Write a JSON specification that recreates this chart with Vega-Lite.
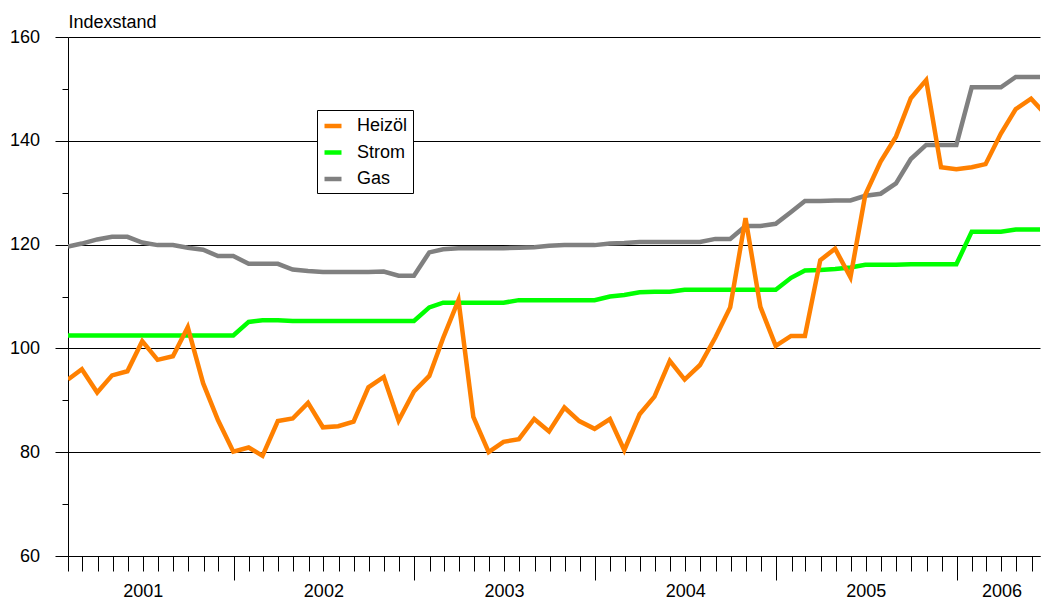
{
  "$schema": "https://vega.github.io/schema/vega-lite/v6.json",
  "width": 972,
  "height": 519,
  "autosize": {"type": "none"},
  "padding": {"left": 68, "top": 37, "right": 1, "bottom": 45},
  "background": "white",
  "config": {"view": {"stroke": null}, "font": "Liberation Sans"},
  "data": {
    "values": [
      {"d": "2001/01/31", "Heizöl": 94.0, "Strom": 102.5, "Gas": 119.6},
      {"d": "2001/02/28", "Heizöl": 96.0, "Strom": 102.5, "Gas": 120.2},
      {"d": "2001/03/31", "Heizöl": 91.5, "Strom": 102.5, "Gas": 121.0},
      {"d": "2001/04/30", "Heizöl": 94.8, "Strom": 102.5, "Gas": 121.5},
      {"d": "2001/05/31", "Heizöl": 95.6, "Strom": 102.5, "Gas": 121.5},
      {"d": "2001/06/30", "Heizöl": 101.4, "Strom": 102.5, "Gas": 120.4},
      {"d": "2001/07/31", "Heizöl": 97.8, "Strom": 102.5, "Gas": 119.9},
      {"d": "2001/08/31", "Heizöl": 98.5, "Strom": 102.5, "Gas": 119.9},
      {"d": "2001/09/30", "Heizöl": 104.1, "Strom": 102.5, "Gas": 119.4},
      {"d": "2001/10/31", "Heizöl": 93.3, "Strom": 102.5, "Gas": 119.0},
      {"d": "2001/11/30", "Heizöl": 86.2, "Strom": 102.5, "Gas": 117.8},
      {"d": "2001/12/31", "Heizöl": 80.1, "Strom": 102.5, "Gas": 117.8},
      {"d": "2002/01/31", "Heizöl": 80.9, "Strom": 105.1, "Gas": 116.3},
      {"d": "2002/02/28", "Heizöl": 79.3, "Strom": 105.4, "Gas": 116.3},
      {"d": "2002/03/31", "Heizöl": 86.0, "Strom": 105.4, "Gas": 116.3},
      {"d": "2002/04/30", "Heizöl": 86.5, "Strom": 105.3, "Gas": 115.2},
      {"d": "2002/05/31", "Heizöl": 89.5, "Strom": 105.3, "Gas": 114.9},
      {"d": "2002/06/30", "Heizöl": 84.8, "Strom": 105.3, "Gas": 114.7},
      {"d": "2002/07/31", "Heizöl": 85.0, "Strom": 105.3, "Gas": 114.7},
      {"d": "2002/08/31", "Heizöl": 85.9, "Strom": 105.3, "Gas": 114.7},
      {"d": "2002/09/30", "Heizöl": 92.5, "Strom": 105.3, "Gas": 114.7},
      {"d": "2002/10/31", "Heizöl": 94.5, "Strom": 105.3, "Gas": 114.8},
      {"d": "2002/11/30", "Heizöl": 86.1, "Strom": 105.3, "Gas": 114.0},
      {"d": "2002/12/31", "Heizöl": 91.7, "Strom": 105.3, "Gas": 114.0},
      {"d": "2003/01/31", "Heizöl": 94.7, "Strom": 107.9, "Gas": 118.5},
      {"d": "2003/02/28", "Heizöl": 102.0, "Strom": 108.8, "Gas": 119.1},
      {"d": "2003/03/31", "Heizöl": 109.3, "Strom": 108.8, "Gas": 119.3},
      {"d": "2003/04/30", "Heizöl": 86.8, "Strom": 108.8, "Gas": 119.3},
      {"d": "2003/05/31", "Heizöl": 80.0, "Strom": 108.8, "Gas": 119.3},
      {"d": "2003/06/30", "Heizöl": 82.0, "Strom": 108.8, "Gas": 119.3},
      {"d": "2003/07/31", "Heizöl": 82.5, "Strom": 109.3, "Gas": 119.4},
      {"d": "2003/08/31", "Heizöl": 86.4, "Strom": 109.3, "Gas": 119.5},
      {"d": "2003/09/30", "Heizöl": 84.0, "Strom": 109.3, "Gas": 119.8},
      {"d": "2003/10/31", "Heizöl": 88.6, "Strom": 109.3, "Gas": 119.9},
      {"d": "2003/11/30", "Heizöl": 86.0, "Strom": 109.3, "Gas": 119.9},
      {"d": "2003/12/31", "Heizöl": 84.5, "Strom": 109.3, "Gas": 119.9},
      {"d": "2004/01/31", "Heizöl": 86.4, "Strom": 110.0, "Gas": 120.2},
      {"d": "2004/02/29", "Heizöl": 80.4, "Strom": 110.3, "Gas": 120.3},
      {"d": "2004/03/31", "Heizöl": 87.3, "Strom": 110.8, "Gas": 120.5},
      {"d": "2004/04/30", "Heizöl": 90.7, "Strom": 110.9, "Gas": 120.5},
      {"d": "2004/05/31", "Heizöl": 97.6, "Strom": 110.9, "Gas": 120.5},
      {"d": "2004/06/30", "Heizöl": 94.0, "Strom": 111.3, "Gas": 120.5},
      {"d": "2004/07/31", "Heizöl": 96.8, "Strom": 111.3, "Gas": 120.5},
      {"d": "2004/08/31", "Heizöl": 102.1, "Strom": 111.3, "Gas": 121.1},
      {"d": "2004/09/30", "Heizöl": 107.9, "Strom": 111.3, "Gas": 121.1},
      {"d": "2004/10/31", "Heizöl": 125.1, "Strom": 111.3, "Gas": 123.6},
      {"d": "2004/11/30", "Heizöl": 108.0, "Strom": 111.3, "Gas": 123.6},
      {"d": "2004/12/31", "Heizöl": 100.5, "Strom": 111.3, "Gas": 124.0},
      {"d": "2005/01/31", "Heizöl": 102.4, "Strom": 113.6, "Gas": 126.3},
      {"d": "2005/02/28", "Heizöl": 102.4, "Strom": 115.0, "Gas": 128.4},
      {"d": "2005/03/31", "Heizöl": 117.0, "Strom": 115.1, "Gas": 128.4},
      {"d": "2005/04/30", "Heizöl": 119.2, "Strom": 115.3, "Gas": 128.5},
      {"d": "2005/05/31", "Heizöl": 113.7, "Strom": 115.6, "Gas": 128.5},
      {"d": "2005/06/30", "Heizöl": 129.6, "Strom": 116.1, "Gas": 129.4},
      {"d": "2005/07/31", "Heizöl": 136.0, "Strom": 116.1, "Gas": 129.8},
      {"d": "2005/08/31", "Heizöl": 140.8, "Strom": 116.1, "Gas": 131.8},
      {"d": "2005/09/30", "Heizöl": 148.2, "Strom": 116.2, "Gas": 136.5},
      {"d": "2005/10/31", "Heizöl": 151.7, "Strom": 116.2, "Gas": 139.2},
      {"d": "2005/11/30", "Heizöl": 134.9, "Strom": 116.2, "Gas": 139.2},
      {"d": "2005/12/31", "Heizöl": 134.5, "Strom": 116.2, "Gas": 139.2},
      {"d": "2006/01/31", "Heizöl": 134.9, "Strom": 122.5, "Gas": 150.3},
      {"d": "2006/02/28", "Heizöl": 135.5, "Strom": 122.5, "Gas": 150.3},
      {"d": "2006/03/31", "Heizöl": 141.4, "Strom": 122.5, "Gas": 150.3},
      {"d": "2006/04/30", "Heizöl": 146.1, "Strom": 122.9, "Gas": 152.3},
      {"d": "2006/05/31", "Heizöl": 148.1, "Strom": 122.9, "Gas": 152.3},
      {"d": "2006/06/30", "Heizöl": 145.0, "Strom": 122.9, "Gas": 152.3}
    ]
  },
  "transform": [{"fold": ["Gas", "Strom", "Heizöl"], "as": ["serie", "wert"]}],
  "mark": {"type": "line", "strokeWidth": 4.5, "clip": true},
  "encoding": {
    "x": {
      "field": "d",
      "type": "temporal",
      "scale": {"domain": [{"year": 2001, "month": 1, "date": 31}, {"year": 2006, "month": 6, "date": 18}]},
      "axis": {
        "title": null,
        "tickCount": {"interval": "month", "step": 1},
        "labelExpr": "(month(datum.value) == 6 && year(datum.value) < 2006) || (year(datum.value) == 2006 && month(datum.value) == 3) ? timeFormat(datum.value, '%Y') : ''",
        "tickSize": {"condition": {"test": "month(datum.value) == 0", "value": 24}, "value": 15},
        "tickColor": "#000",
        "tickWidth": 1,
        "domainColor": "#000",
        "domainWidth": 1,
        "grid": false,
        "labelFontSize": 18,
        "labelColor": "#000",
        "labelPadding": 11,
        "labelOverlap": false,
        "labelBound": false,
        "labelFlush": false,
        "labelAlign": "center",
        "labelBaseline": "top"
      }
    },
    "y": {
      "field": "wert",
      "type": "quantitative",
      "scale": {"domain": [60, 160], "nice": false, "zero": false},
      "axis": {
        "title": "Indexstand",
        "values": [60, 70, 80, 90, 100, 110, 120, 130, 140, 150, 160],
        "labelExpr": "datum.value % 20 == 0 ? datum.label : ''",
        "tickSize": {"condition": {"test": "datum.value % 20 == 0", "value": 13}, "value": 6},
        "tickColor": "#000",
        "domainColor": "#000",
        "grid": true,
        "gridColor": "#000",
        "gridWidth": 1,
        "gridOpacity": {"condition": {"test": "datum.value % 20 == 0", "value": 1}, "value": 0},
        "labelFontSize": 18,
        "labelColor": "#000",
        "labelPadding": 15.5,
        "titleAngle": 0,
        "titleAlign": "left",
        "titleBaseline": "alphabetic",
        "titleX": 0,
        "titleY": -10,
        "titleFontSize": 18,
        "titleFontWeight": "normal",
        "titleColor": "#000"
      }
    },
    "color": {
      "field": "serie",
      "type": "nominal",
      "scale": {"domain": ["Heizöl", "Strom", "Gas"], "range": ["#FF8000", "#00FF00", "#808080"]},
      "legend": {
        "title": null,
        "orient": "none",
        "legendX": 249,
        "legendY": 73,
        "symbolType": "stroke",
        "symbolSize": 289,
        "symbolStrokeWidth": 4.5,
        "labelFontSize": 18,
        "labelColor": "#000",
        "labelOffset": 13,
        "rowPadding": 6.5,
        "padding": 5,
        "fillColor": "white",
        "strokeColor": "#000",
        "cornerRadius": 0
      }
    }
  }
}
